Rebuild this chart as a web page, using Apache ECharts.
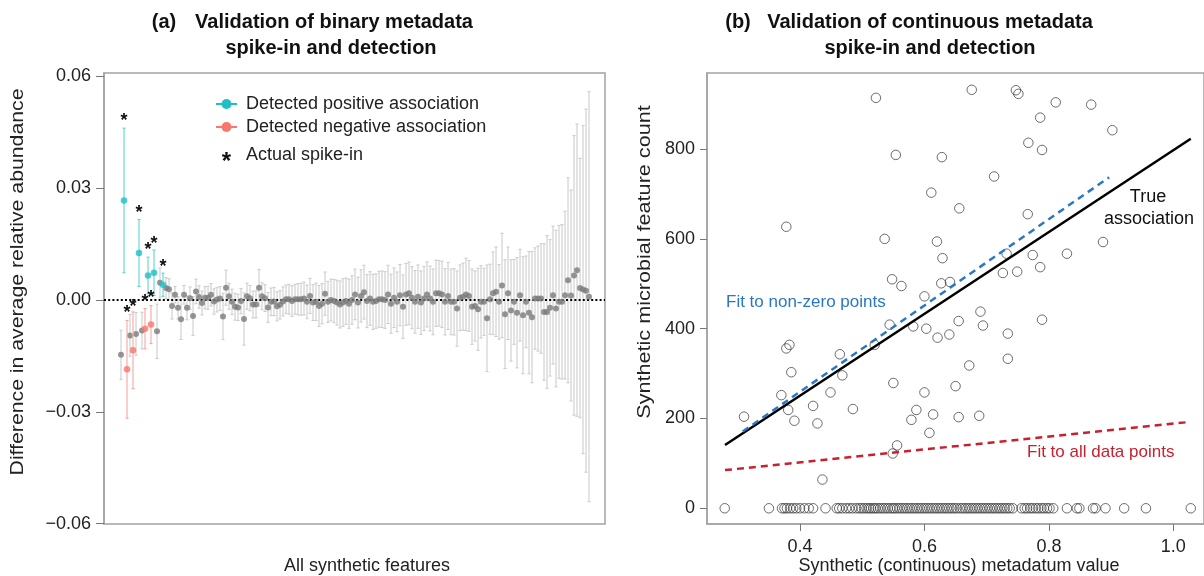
<!DOCTYPE html>
<html><head><meta charset="utf-8">
<script src="https://cdn.jsdelivr.net/npm/echarts@6/dist/echarts.min.js"></script>
<style>html,body{margin:0;padding:0;background:#fff}#c{width:1204px;height:576px}</style>
</head><body><div id="c"></div>
<script>
// ---------- Panel (a): binary metadata ----------
const meanDiff = [
-0.0147,0.0267,-0.0186,-0.0095,-0.0135,-0.0091,0.0126,-0.0082,-0.0077,0.0066,
-0.0066,0.0073,-0.0084,0.0046,0.0041,0.0032,0.0029,-0.0016,0.0014,-0.0021,
-0.0052,0.0014,-0.0021,0.0005,-0.0043,0.0023,0.0008,-0.0008,0.0006,0.0006,
0.0014,-0.0004,0.0001,0.0004,-0.0044,0.0033,0.0010,-0.0005,-0.0018,-0.0020,
-0.0003,-0.0051,0.0010,0.0005,-0.0012,-0.0012,0.0033,0.0010,0.0005,-0.0020,
-0.0005,-0.0004,-0.0017,-0.0013,-0.0004,0.0002,0.0002,-0.0003,0.0002,0.0002,
0.0002,0.0004,-0.0005,0.0011,-0.0007,-0.0005,-0.0016,-0.0010,0.0017,-0.0005,
0.0000,-0.0003,-0.0007,-0.0012,-0.0007,-0.0003,-0.0010,0.0000,0.0015,-0.0007,
0.0011,0.0021,-0.0003,0.0004,-0.0005,-0.0003,0.0002,0.0002,0.0000,0.0015,
-0.0010,0.0006,-0.0005,0.0013,-0.0018,0.0015,0.0018,0.0006,-0.0005,0.0009,
-0.0007,0.0004,0.0015,0.0004,-0.0005,0.0018,0.0018,0.0015,-0.0005,0.0011,
-0.0005,-0.0005,-0.0023,0.0006,0.0009,0.0015,0.0011,-0.0018,-0.0016,-0.0025,
-0.0005,-0.0005,-0.0049,0.0002,0.0018,0.0022,-0.0005,0.0039,-0.0038,0.0018,
-0.0028,-0.0005,-0.0034,0.0013,-0.0041,-0.0005,-0.0034,-0.0046,0.0004,0.0004,
0.0004,-0.0032,-0.0032,-0.0021,0.0013,-0.0023,-0.0005,-0.0005,0.0013,0.0053,
0.0012,0.0066,0.0080,0.0032,0.0028,0.0025,0.0009
];
const ciHalf = [
0.0066,0.0194,0.0131,0.0056,0.0103,0.0057,0.0090,0.0049,0.0054,0.0049,
0.0051,0.0061,0.0073,0.0040,0.0031,0.0028,0.0028,0.0035,0.0022,0.0030,
0.0054,0.0025,0.0032,0.0030,0.0052,0.0033,0.0030,0.0032,0.0030,0.0031,
0.0030,0.0034,0.0033,0.0032,0.0062,0.0047,0.0035,0.0034,0.0036,0.0035,
0.0034,0.0070,0.0035,0.0034,0.0036,0.0036,0.0049,0.0036,0.0036,0.0040,
0.0037,0.0038,0.0039,0.0038,0.0039,0.0038,0.0040,0.0041,0.0040,0.0042,
0.0043,0.0044,0.0045,0.0047,0.0048,0.0050,0.0055,0.0054,0.0058,0.0055,
0.0056,0.0058,0.0060,0.0063,0.0064,0.0062,0.0066,0.0065,0.0068,0.0068,
0.0070,0.0072,0.0071,0.0072,0.0074,0.0073,0.0075,0.0076,0.0076,0.0078,
0.0079,0.0080,0.0080,0.0082,0.0085,0.0083,0.0084,0.0083,0.0084,0.0085,
0.0085,0.0086,0.0087,0.0087,0.0088,0.0089,0.0088,0.0089,0.0089,0.0090,
0.0088,0.0089,0.0101,0.0088,0.0090,0.0097,0.0095,0.0101,0.0094,0.0110,
0.0097,0.0090,0.0143,0.0094,0.0111,0.0120,0.0100,0.0140,0.0146,0.0124,
0.0136,0.0114,0.0148,0.0123,0.0157,0.0123,0.0164,0.0176,0.0136,0.0141,
0.0147,0.0183,0.0205,0.0183,0.0185,0.0210,0.0205,0.0207,0.0225,0.0275,
0.0283,0.0375,0.0392,0.0348,0.0440,0.0487,0.0550
];
const posDetected = [1, 6, 9, 11, 14];
const negDetected = [2, 4, 8, 10];
const spikeIdx  = [1, 2, 4, 6, 8, 9, 10, 11, 14];
const spikeMark = [0.0492, -0.0025, -0.0009, 0.0243, 0.0006, 0.0144, 0.0015, 0.0161, 0.0099];
const leftTicks = [-0.06, -0.03, 0, 0.03, 0.06];

// ---------- Panel (b): continuous metadata ----------
const nzX = [0.522,0.554,0.628,0.611,0.656,0.378,0.536,0.620,0.629,0.548,0.563,0.627,0.641,0.600,0.544,
0.582,0.603,0.655,0.621,0.640,0.520,0.383,0.378,0.464,0.386,0.468,0.550,0.650,0.370,0.449,0.600,0.421,
0.381,0.485,0.587,0.310,0.391,0.428,0.579,0.614,0.655,0.608,0.556,0.549,0.436,
0.676,0.747,0.751,0.811,0.868,0.786,0.902,0.767,0.789,0.712,0.766,0.887,0.732,0.774,0.829,0.726,0.749,
0.786,0.690,0.694,0.789,0.734,0.672,0.734,0.688];
const nzY = [914,787,782,703,668,627,600,594,557,510,495,501,504,472,409,
405,400,417,380,387,364,364,356,343,303,296,279,272,252,258,258,228,
219,221,219,204,195,189,197,209,203,168,140,122,64,
932,931,923,904,899,870,842,814,798,739,655,593,567,564,567,524,527,
537,438,407,420,389,318,333,206];
const zeroX = [0.279,0.350,0.371,0.375,0.379,0.384,0.389,0.394,0.400,0.407,0.414,0.421,0.441,0.459,0.463,
0.468,0.474,0.479,0.484,0.490,0.495,0.499,0.503,0.507,0.511,0.514,0.518,0.521,0.525,0.529,0.533,0.537,
0.541,0.545,0.549,0.552,0.556,0.560,0.564,0.568,0.572,0.576,0.580,0.584,0.588,0.592,0.596,0.600,0.604,
0.608,0.612,0.616,0.620,0.624,0.628,0.632,0.636,0.640,0.644,0.648,0.652,0.657,0.661,0.665,0.669,0.673,
0.677,0.681,0.685,0.689,0.693,0.697,0.701,0.705,0.709,0.713,0.717,0.721,0.725,0.729,0.733,0.737,0.742,
0.756,0.761,0.765,0.770,0.774,0.779,0.783,0.788,0.792,0.797,0.801,0.807,0.829,0.845,0.849,0.871,0.875,
0.891,0.921,0.956,1.028];
const trueLine   = [[0.2794, 141], [1.028, 823]];
const fitNonZero = [[0.3079, 171], [0.8968, 737]];
const fitAll     = [[0.2794, 85], [1.0243, 192]];
const rightXTicks = [0.4, 0.6, 0.8, 1.0];
const rightYTicks = [0, 200, 400, 600, 800];

// ---------- build ----------
const CYAN = '#1fbfc4', CYAN_BAR = '#62d3d6';
const PINK = '#f8766d', PINK_BAR = '#f6a7a0';
const GREY = '#7b7b7b', GREY_BAR = '#cdcdcd';
const FONT = '"Liberation Sans", Arial, sans-serif';

function typeOf(i){ return posDetected.includes(i) ? 1 : (negDetected.includes(i) ? 2 : 0); }
const barData = meanDiff.map((m, i) => [i, m - ciHalf[i], m + ciHalf[i], typeOf(i)]);
const greyBars = barData.filter(d => d[3] === 0);
const colBars = barData.filter(d => d[3] !== 0);
const greyPts = meanDiff.map((m, i) => [i, m]).filter(d => typeOf(d[0]) === 0);
const posPts = posDetected.map(i => [i, meanDiff[i]]);
const negPts = negDetected.map(i => [i, meanDiff[i]]);
const starData = spikeIdx.map((i, k) => [i, spikeMark[k]]);

function renderBar(params, api){
  const lo = api.value(1), hi = api.value(2), t = api.value(3), i = api.value(0);
  const a = api.coord([i, hi]), b = api.coord([i, lo]);
  const col = t === 1 ? CYAN_BAR : (t === 2 ? PINK_BAR : GREY_BAR);
  const st = {stroke: col, lineWidth: 1.1};
  return {type: 'group', children: [
    {type: 'line', shape: {x1: a[0], y1: a[1], x2: b[0], y2: b[1]}, style: st},
    {type: 'line', shape: {x1: a[0]-1.6, y1: a[1], x2: a[0]+1.6, y2: a[1]}, style: st},
    {type: 'line', shape: {x1: b[0]-1.6, y1: b[1], x2: b[0]+1.6, y2: b[1]}, style: st}
  ]};
}
function renderStar(params, api){
  const p = api.coord([api.value(0), api.value(1)]);
  return {type: 'text', x: p[0], y: p[1] + 4, style: {text: '*', fill: '#111', font: 'bold 18px ' + FONT, align: 'center', verticalAlign: 'middle'}};
}

const chart = echarts.init(document.getElementById('c'), null, {renderer: 'canvas'});
const tickLabel = {fontSize: 18, color: '#222', fontFamily: FONT};

const option = {
  backgroundColor: '#fff',
  animation: false,
  grid: [
    {left: 104, top: 73, width: 501, height: 451, show: true, borderColor: '#a3a3a3', borderWidth: 1.5, backgroundColor: 'transparent'},
    {left: 707, top: 73, width: 497, height: 451, show: true, borderColor: '#a3a3a3', borderWidth: 1.5, backgroundColor: 'transparent'}
  ],
  xAxis: [
    {gridIndex: 0, type: 'value', min: -5.67, max: 161.33, show: false},
    {gridIndex: 1, type: 'value', min: 0.2505, max: 1.0493, position: 'bottom',
     axisLine: {show: true, onZero: false, lineStyle: {color: '#a3a3a3', width: 1.5}},
     axisTick: {show: true, customValues: rightXTicks, length: 7, lineStyle: {color: '#777'}},
     axisLabel: Object.assign({customValues: rightXTicks, margin: 14, formatter: v => v.toFixed(1)}, tickLabel),
     splitLine: {show: false}}
  ],
  yAxis: [
    {gridIndex: 0, type: 'value', min: -0.0601, max: 0.0609, position: 'left',
     axisLine: {show: true, onZero: false, lineStyle: {color: '#a3a3a3', width: 1.5}},
     axisTick: {show: true, customValues: leftTicks, length: 8, lineStyle: {color: '#777'}},
     axisLabel: Object.assign({customValues: leftTicks, margin: 13, formatter: v => (v < 0 ? '\u2212' : '') + Math.abs(v).toFixed(2)}, tickLabel),
     splitLine: {show: false}},
    {gridIndex: 1, type: 'value', min: -35, max: 969.4, position: 'left',
     axisLine: {show: true, onZero: false, lineStyle: {color: '#a3a3a3', width: 1.5}},
     axisTick: {show: true, customValues: rightYTicks, length: 7, lineStyle: {color: '#777'}},
     axisLabel: Object.assign({customValues: rightYTicks, margin: 12}, tickLabel),
     splitLine: {show: false}}
  ],
  series: [
    {type: 'custom', xAxisIndex: 0, yAxisIndex: 0, data: greyBars, renderItem: renderBar, encode: {x: 0, y: [1, 2]}, z: 2,
     markLine: {silent: true, symbol: 'none', label: {show: false}, lineStyle: {color: '#000', type: [2, 2.2], width: 2}, data: [{yAxis: 0}], z: 3}},
    {type: 'scatter', xAxisIndex: 0, yAxisIndex: 0, data: greyPts, symbolSize: 6, itemStyle: {color: GREY}, z: 4},
    {type: 'custom', xAxisIndex: 0, yAxisIndex: 0, data: colBars, renderItem: renderBar, encode: {x: 0, y: [1, 2]}, z: 5},
    {type: 'scatter', xAxisIndex: 0, yAxisIndex: 0, data: posPts, symbolSize: 6.5, itemStyle: {color: CYAN}, z: 6},
    {type: 'scatter', xAxisIndex: 0, yAxisIndex: 0, data: negPts, symbolSize: 6.5, itemStyle: {color: PINK}, z: 6},
    {type: 'custom', xAxisIndex: 0, yAxisIndex: 0, data: starData, renderItem: renderStar, encode: {x: 0, y: 1}, z: 7},

    {type: 'scatter', xAxisIndex: 1, yAxisIndex: 1, data: nzX.map((x, i) => [x, nzY[i]]), symbol: 'circle', symbolSize: 9.5,
     itemStyle: {color: 'rgba(0,0,0,0)', borderColor: '#333', borderWidth: 0.9}, z: 3},
    {type: 'scatter', xAxisIndex: 1, yAxisIndex: 1, data: zeroX.map(x => [x, 0]), symbol: 'circle', symbolSize: 9.5,
     itemStyle: {color: 'rgba(0,0,0,0)', borderColor: '#333', borderWidth: 0.9}, z: 3},
    {type: 'line', xAxisIndex: 1, yAxisIndex: 1, data: trueLine, showSymbol: false, symbol: 'none', lineStyle: {color: '#000', width: 2.5}, z: 5},
    {type: 'line', xAxisIndex: 1, yAxisIndex: 1, data: fitNonZero, showSymbol: false, symbol: 'none', lineStyle: {color: '#2a78c2', width: 2.5, type: [7, 5]}, z: 6},
    {type: 'line', xAxisIndex: 1, yAxisIndex: 1, data: fitAll, showSymbol: false, symbol: 'none', lineStyle: {color: '#c8202f', width: 2.5, type: [7, 5]}, z: 6}
  ],
  graphic: [
    // titles
    {type: 'text', x: 164, y: 22, style: {text: '(a)', font: 'bold 20px ' + FONT, fill: '#111', align: 'center', verticalAlign: 'middle'}},
    {type: 'text', x: 334, y: 22, style: {text: 'Validation of binary metadata', font: 'bold 20px ' + FONT, fill: '#111', align: 'center', verticalAlign: 'middle'}},
    {type: 'text', x: 331, y: 48, style: {text: 'spike-in and detection', font: 'bold 20px ' + FONT, fill: '#111', align: 'center', verticalAlign: 'middle'}},
    {type: 'text', x: 738, y: 22, style: {text: '(b)', font: 'bold 20px ' + FONT, fill: '#111', align: 'center', verticalAlign: 'middle'}},
    {type: 'text', x: 930, y: 22, style: {text: 'Validation of continuous metadata', font: 'bold 20px ' + FONT, fill: '#111', align: 'center', verticalAlign: 'middle'}},
    {type: 'text', x: 930, y: 48, style: {text: 'spike-in and detection', font: 'bold 20px ' + FONT, fill: '#111', align: 'center', verticalAlign: 'middle'}},
    // axis titles
    {type: 'text', x: 18, y: 282, rotation: Math.PI / 2, scaleX: 1.18, style: {text: 'Difference in average relative abundance', font: '18px ' + FONT, fill: '#222', align: 'center', verticalAlign: 'middle'}},
    {type: 'text', x: 367, y: 566, style: {text: 'All synthetic features', font: '18px ' + FONT, fill: '#222', align: 'center', verticalAlign: 'middle'}},
    {type: 'text', x: 645, y: 262, rotation: Math.PI / 2, scaleX: 1.2, style: {text: 'Synthetic microbial feature count', font: '18px ' + FONT, fill: '#222', align: 'center', verticalAlign: 'middle'}},
    {type: 'text', x: 959, y: 566, style: {text: 'Synthetic (continuous) metadatum value', font: '18px ' + FONT, fill: '#222', align: 'center', verticalAlign: 'middle'}},
    // legend (a)
    {type: 'line', shape: {x1: 216, y1: 104, x2: 237, y2: 104}, style: {stroke: CYAN, lineWidth: 2}},
    {type: 'circle', shape: {cx: 226.5, cy: 104, r: 5}, style: {fill: CYAN}},
    {type: 'text', x: 246, y: 104, style: {text: 'Detected positive association', font: '18px ' + FONT, fill: '#222', align: 'left', verticalAlign: 'middle'}},
    {type: 'line', shape: {x1: 216, y1: 127, x2: 237, y2: 127}, style: {stroke: PINK, lineWidth: 2}},
    {type: 'circle', shape: {cx: 226.5, cy: 127, r: 5}, style: {fill: PINK}},
    {type: 'text', x: 246, y: 127, style: {text: 'Detected negative association', font: '18px ' + FONT, fill: '#222', align: 'left', verticalAlign: 'middle'}},
    {type: 'text', x: 226.5, y: 162, style: {text: '*', font: 'bold 24px ' + FONT, fill: '#111', align: 'center', verticalAlign: 'middle'}},
    {type: 'text', x: 246, y: 155, style: {text: 'Actual spike-in', font: '18px ' + FONT, fill: '#222', align: 'left', verticalAlign: 'middle'}},
    // annotations (b)
    {type: 'text', x: 726, y: 302, style: {text: 'Fit to non-zero points', font: '17px ' + FONT, fill: '#2a78c2', align: 'left', verticalAlign: 'middle'}},
    {type: 'text', x: 1148, y: 197, style: {text: 'True', font: '18px ' + FONT, fill: '#111', align: 'center', verticalAlign: 'middle'}},
    {type: 'text', x: 1149, y: 219, style: {text: 'association', font: '18px ' + FONT, fill: '#111', align: 'center', verticalAlign: 'middle'}},
    {type: 'text', x: 1027, y: 452, style: {text: 'Fit to all data points', font: '17px ' + FONT, fill: '#c8202f', align: 'left', verticalAlign: 'middle'}}
  ]
};
chart.setOption(option);
</script></body></html>
